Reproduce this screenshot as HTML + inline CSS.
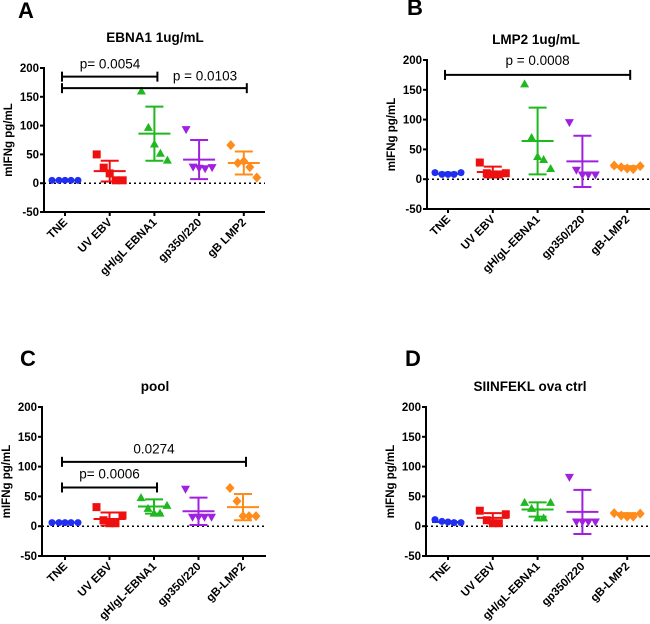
<!DOCTYPE html>
<html><head><meta charset="utf-8">
<style>
html,body{margin:0;padding:0;background:#fff;}
svg{display:block;font-family:"Liberation Sans",Arial,sans-serif;}
</style></head>
<body>
<svg id="fig" width="650" height="624" viewBox="0 0 650 624" xmlns="http://www.w3.org/2000/svg"></svg>
<script>
// ---- data ----
const categoriesA = ["TNE","UV EBV","gH/gL EBNA1","gp350/220","gB LMP2"];
const categoriesB = ["TNE","UV EBV","gH/gL-EBNA1","gp350/220","gB-LMP2"];
const yTicks = [-50,0,50,100,150,200];
const colors = ["#1f2ef0","#ee1010","#1fb81f","#a020e0","#ff8c1a"];
const markers = ["circle","square","up","down","diamond"];

const pointsA = [[5,5,5,5,5],[50,27,17,5,5],[160,97,68,52,40],[93,28,26,25,27],[66,35,38,28,10]];
const meansA = [5,21,86,41,35];
const sdA = [0,18,47,34,20];
const pointsB = [[11,8,8,8,11],[28,10,8,8,10],[160,70,38,33,18],[95,15,7,7,7],[23,20,18,17,22]];
const meansB = [9,12,64,30,20];
const sdB = [2,9,56,43,2];
const pointsC = [[6,6,6,6,6],[32,10,5,5,18],[48,30,22,22,35],[62,15,15,15,15],[64,42,17,17,17]];
const meansC = [6,12,33,25,32];
const sdC = [0,11,12,23,22];
const pointsD = [[11,8,7,6,6],[26,10,5,5,20],[40,30,14,14,40],[82,7,7,7,7],[22,18,16,16,21]];
const meansD = [7,14,28,24,20];
const sdD = [1,8,12,37,2];

const bracketsA = [{from:0,to:2,y:185,label:"p= 0.0054",lx:110,ly:199},{from:0,to:4,y:165,label:"p = 0.0103",lx:205,ly:178}];
const bracketsB = [{from:0,to:4,y:175,label:"p = 0.0008",lx:0,ly:192}];
const bracketsC = [{from:0,to:2,y:65,label:"p= 0.0006",lx:0,ly:80}];
const bracketsC2 = [{from:0,to:4,y:108,label:"0.0274",lx:0,ly:122}];
const bracketsD = [];

const NS="http://www.w3.org/2000/svg";
const svg=document.getElementById('fig');
function mk(tag,attrs,parent){const e=document.createElementNS(NS,tag);for(const k in attrs)e.setAttribute(k,attrs[k]);(parent||svg).appendChild(e);return e;}

function panel(cfg){
  const g=mk('g',{});
  
  
  const yS=v=>cfg.y0+(v-(-50))/250*(cfg.y200-cfg.y0);
  const xS=i=>cfg.cx0+i*cfg.dx;
  const L=mk('text',{x:cfg.lx,y:cfg.ly,'font-size':22,'font-weight':'bold',fill:'#000'},g);L.textContent=cfg.letter;
  
  
  const T=mk('text',{x:cfg.tx,y:cfg.ty,'font-size':13.5,'font-weight':'bold','text-anchor':'middle'},g);T.textContent=cfg.title;
  
  
  mk('line',{x1:cfg.ax,x2:cfg.ax,y1:yS(200)-1,y2:yS(-50)+1,stroke:'#000','stroke-width':2},g);
  yTicks.forEach(t=>{
    mk('line',{x1:cfg.ax-4,x2:cfg.ax,y1:yS(t),y2:yS(t),stroke:'#000','stroke-width':2},g);
    const tt=mk('text',{x:cfg.ax-5,y:yS(t)+4,'font-size':11.5,'font-weight':'bold','text-anchor':'end'},g);tt.textContent=t;
    
    
  });
  const yl=mk('text',{x:0,y:0,'font-size':11.5,'font-weight':'bold','text-anchor':'middle',transform:`translate(${cfg.ax-32},${yS(75)}) rotate(-90)`},g);yl.textContent='mIFNg pg/mL';
  
  
  mk('line',{x1:cfg.ax,x2:cfg.axEnd,y1:yS(-50),y2:yS(-50),stroke:'#000','stroke-width':2},g);
  mk('line',{x1:cfg.ax,x2:cfg.axEnd,y1:yS(0),y2:yS(0),stroke:'#000','stroke-width':1.5,'stroke-dasharray':'2,3'},g);
  cfg.cats.forEach((c,i)=>{
    mk('line',{x1:xS(i),x2:xS(i),y1:yS(-50),y2:yS(-50)+4,stroke:'#000','stroke-width':2},g);
    const t=mk('text',{x:0,y:0,'font-size':11.5,'font-weight':'bold','text-anchor':'end',transform:`translate(${xS(i)+3},${yS(-50)+11}) rotate(-45)`},g);t.textContent=c;
    
    
  });
  const offs=[-13,-6,0,6,13];
  cfg.pts.forEach((arr,i)=>{
    const col=colors[i];const cx=xS(i);
    const sg=mk('g',{},g);
    
    
    const m=cfg.means[i],s=cfg.sd[i];
    mk('line',{x1:cx-16,x2:cx+16,y1:yS(m),y2:yS(m),stroke:col,'stroke-width':2},sg);
    mk('line',{x1:cx,x2:cx,y1:yS(m+s),y2:yS(m-s),stroke:col,'stroke-width':2},sg);
    mk('line',{x1:cx-9,x2:cx+9,y1:yS(m+s),y2:yS(m+s),stroke:col,'stroke-width':2},sg);
    mk('line',{x1:cx-9,x2:cx+9,y1:yS(m-s),y2:yS(m-s),stroke:col,'stroke-width':2},sg);
    arr.forEach((v,j)=>{
      const px=cx+offs[j],py=yS(v);let e;
      const mt=markers[i];
      if(mt==='circle')e=mk('circle',{cx:px,cy:py,r:3.5,fill:col},sg);
      else if(mt==='square')e=mk('rect',{x:px-4,y:py-4,width:8,height:8,fill:col},sg);
      else if(mt==='up')e=mk('polygon',{points:`${px},${py-4.5} ${px+4.5},${py+3.5} ${px-4.5},${py+3.5}`,fill:col},sg);
      else if(mt==='down')e=mk('polygon',{points:`${px},${py+4.5} ${px+4.5},${py-3.5} ${px-4.5},${py-3.5}`,fill:col},sg);
      else e=mk('polygon',{points:`${px},${py-5} ${px+4.5},${py} ${px},${py+5} ${px-4.5},${py}`,fill:col},sg);
      
      
    });
  });
  cfg.brackets.forEach(b=>{
    const bg=mk('g',{},g);
    
    
    const x1=xS(b.from)-3,x2=xS(b.to)+3,y=yS(b.y);
    mk('line',{x1:x1,x2:x2,y1:y,y2:y,stroke:'#000','stroke-width':2},bg);
    mk('line',{x1:x1,x2:x1,y1:y-5,y2:y+5,stroke:'#000','stroke-width':2},bg);
    mk('line',{x1:x2,x2:x2,y1:y-5,y2:y+5,stroke:'#000','stroke-width':2},bg);
    const lx=b.lx?b.lx:(x1+x2)/2;
    const t=mk('text',{x:lx,y:yS(b.ly),'font-size':13.5,'text-anchor':'middle'},bg);t.textContent=b.label;
    
    
  });
}
panel({letter:'A',lx:18,ly:18,title:'EBNA1 1ug/mL',tx:155,ty:42,ax:44,axEnd:265,y0:212,y200:68,cx0:65,dx:44.7,cats:categoriesA,pts:pointsA,means:meansA,sd:sdA,brackets:bracketsA});
panel({letter:'B',lx:407,ly:15,title:'LMP2 1ug/mL',tx:536,ty:44,ax:427,axEnd:650,y0:209,y200:60,cx0:448,dx:44.8,cats:categoriesB,pts:pointsB,means:meansB,sd:sdB,brackets:bracketsB});
panel({letter:'C',lx:20,ly:366,title:'pool',tx:155,ty:391,ax:42,axEnd:266,y0:556,y200:407,cx0:65,dx:44.5,cats:categoriesB,pts:pointsC,means:meansC,sd:sdC,brackets:bracketsC.concat(bracketsC2)});
panel({letter:'D',lx:405,ly:366,title:'SIINFEKL ova ctrl',tx:530,ty:391,ax:426,axEnd:650,y0:556,y200:407,cx0:448,dx:44.8,cats:categoriesB,pts:pointsD,means:meansD,sd:sdD,brackets:bracketsD});
</script>
</body></html>
